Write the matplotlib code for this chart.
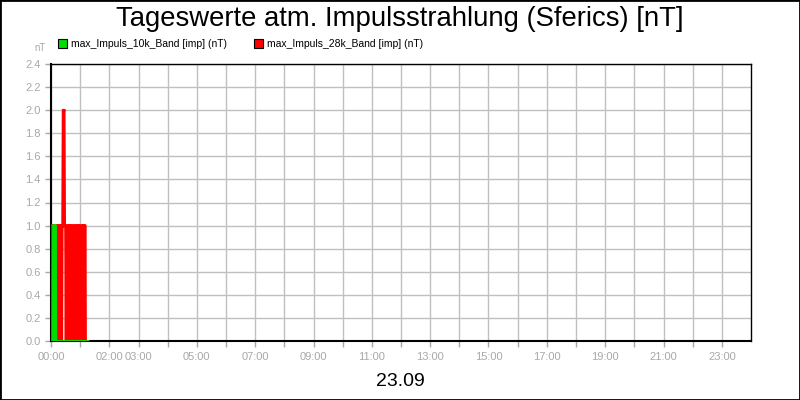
import matplotlib
matplotlib.use("Agg")
import matplotlib.pyplot as plt
import numpy as np
from matplotlib.collections import LineCollection
from matplotlib.patches import Patch, Rectangle

# minute-by-minute samples from 00:00 on 23.09
band_10k = [0, 0, 0, 0, 0, 1, 0, 1, 0, 1, 0, 0, 0, 0, 0, 0, 0, 0, 0, 0,
            0, 0, 0, 0, 0, 0, 0, 0, 0, 0, 0, 0, 0, 0, 0, 0, 0, 0, 0, 0,
            0, 0, 0, 0, 0, 0, 0, 0, 0, 0, 0, 0, 0, 0, 0, 0, 0, 0, 0, 0,
            0, 0, 0, 0, 0, 0, 0, 0, 0, 0, 0, 0, 0, 0, 0, 0, 0]
band_28k = [1, 0, 1, 0, 1, 0, 1, 0, 1, 0,
            1, 0, 1, 0, 1, 1, 0, 1, 0, 1,
            0, 1, 0, 1, 1, 2, 2, 2, 1, 1,
            1, 0, 1, 0, 1, 1, 0, 1, 0, 1,
            0, 1, 0, 1, 1, 1, 0, 1, 0, 1,
            0, 1, 1, 0, 1, 0, 1, 0, 1, 0,
            1, 1, 1, 0, 1, 0, 1, 0, 1, 0,
            1, 0, 0, 0, 0, 0, 0]
minutes = np.arange(len(band_28k))

series_names = ["max_Impuls_10k_Band [imp] (nT)", "max_Impuls_28k_Band [imp] (nT)"]
series_colors = ["#00dd00", "#ff0000"]
title = "Tageswerte atm. Impulsstrahlung (Sferics) [nT]"
day_label = "23.09"
label_hours = [0, 2, 3, 5, 7, 9, 11, 13, 15, 17, 19, 21, 23]

plt.rcParams["font.family"] = ["Liberation Sans", "DejaVu Sans"]
plt.rcParams["path.simplify"] = False
grey = "#a8a8a8"

fig = plt.figure(figsize=(8, 4), dpi=100)
fig.patch.set_facecolor("white")
ax = fig.add_axes([51 / 800, 1 - 341 / 400, 700 / 800, 277 / 400])

hours = minutes / 60.0


def segments(x, y):
    # one piece per step, so the dense up/down strokes do not cancel out
    pts = np.column_stack([x, y])
    return np.stack([pts[:-1], pts[1:]], axis=1)


ax.add_collection(LineCollection(segments(hours, band_28k), colors=series_colors[1],
                                 linewidths=2, zorder=3, capstyle="round"))
ax.add_collection(LineCollection(segments(hours, band_10k), colors=series_colors[0],
                                 linewidths=2, zorder=4, capstyle="round"))

ax.set_xlim(0, 24)
ax.set_ylim(0, 2.4)
ax.set_yticks(np.arange(0, 2.41, 0.2))
ax.set_yticklabels([f"{v:.1f}" for v in np.arange(0, 2.41, 0.2)])
ax.set_xticks(range(0, 24))
ax.set_xticklabels([f"{h:02d}:00" if h in label_hours else "" for h in range(24)])
ax.grid(True, color="#c0c0c0", lw=1)
ax.set_axisbelow(True)
ax.tick_params(axis="both", colors=grey, labelsize=8, length=4, width=1)
ax.tick_params(axis="x", pad=4)
for s in ax.spines.values():
    s.set_color("black")
    s.set_linewidth(1)
ax.spines["left"].set_linewidth(1.5)
ax.spines["bottom"].set_linewidth(1.5)

fig.text(0.5, 1 - 19 / 400, title, ha="center", va="center", fontsize=19.8)
fig.text(40 / 800, 1 - 48 / 400, "nT", ha="center", va="center", fontsize=7, color=grey)
fig.text(0.5, 1 - 381 / 400, day_label, ha="center", va="center", fontsize=14)

handles = [Patch(facecolor=c, edgecolor="black", lw=0.8) for c in series_colors]
fig.legend(handles, series_names, loc="center left", bbox_to_anchor=(58 / 800, 1 - 44 / 400),
           ncol=2, frameon=False, fontsize=7.5, handlelength=0.9, handleheight=0.9,
           handletextpad=0.35, columnspacing=2.6, borderaxespad=0, borderpad=0)

fig.add_artist(Rectangle((0, 0), 1, 1, transform=fig.transFigure, fill=False,
                         edgecolor="black", lw=2))

fig.savefig("out.png", dpi=100)
